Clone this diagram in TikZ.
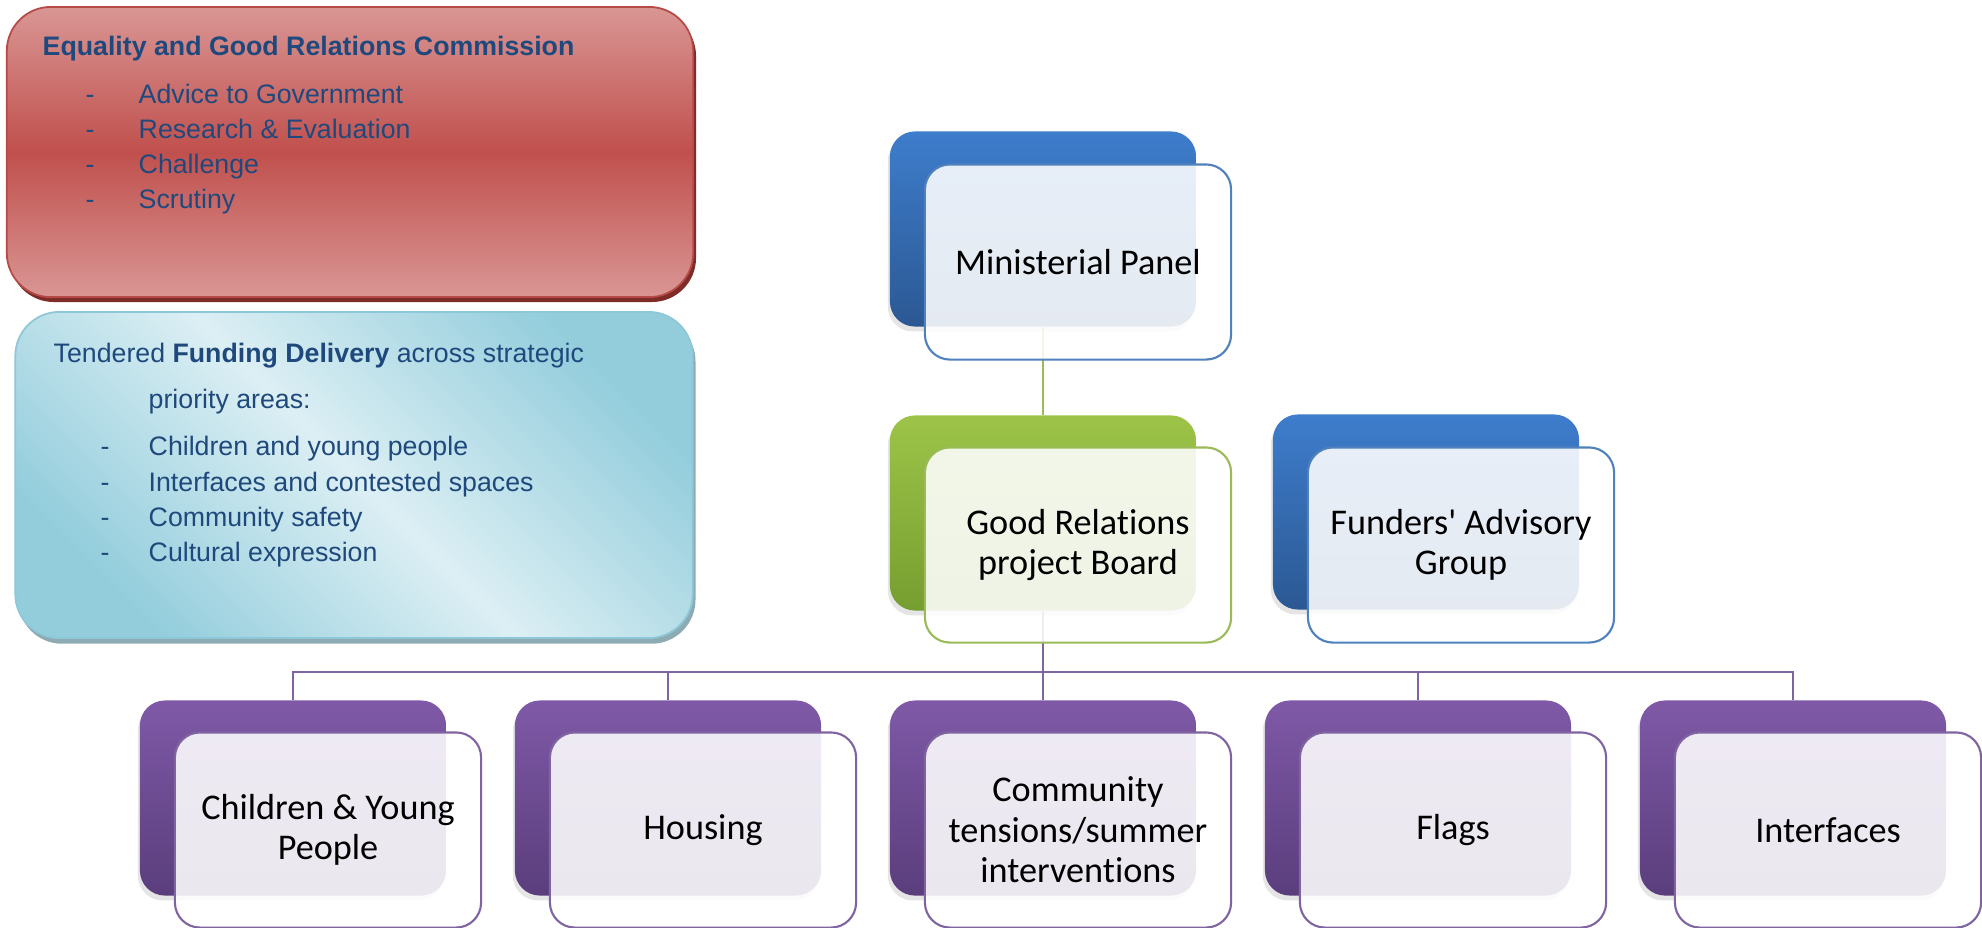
\documentclass[tikz,border=0pt]{standalone}
\usepackage{fontspec}
\setmainfont{Carlito}[Ligatures=NoCommon]
\newfontfamily\arialfont{Liberation Sans}
\usetikzlibrary{shadows}
\usetikzlibrary{backgrounds}

\definecolor{egrcLight}{HTML}{D99694}
\definecolor{egrcDark}{HTML}{C0504D}
\definecolor{egrcEdge}{HTML}{B64A47}
\definecolor{egrcShade}{HTML}{7F2B28}
\definecolor{tenderLight}{HTML}{DCEFF4}
\definecolor{tenderDark}{HTML}{93CDDC}
\definecolor{tenderEdge}{HTML}{8DC8D8}
\definecolor{tenderShade}{HTML}{8EABB3}
\definecolor{listBlue}{HTML}{1F497D}
\definecolor{panelTop}{HTML}{3E7DCC}
\definecolor{panelBot}{HTML}{2B5893}
\definecolor{panelEdge}{HTML}{4F81BD}
\definecolor{boardTop}{HTML}{9DC448}
\definecolor{boardBot}{HTML}{759E30}
\definecolor{boardEdge}{HTML}{9BBB59}
\definecolor{themeTop}{HTML}{7F59A7}
\definecolor{themeBot}{HTML}{5A3E7C}
\definecolor{themeEdge}{HTML}{8064A2}

\begin{document}
\begin{tikzpicture}[x=0.01cm, y=-0.01cm,
  back/.style={rectangle, rounded corners=0.25cm, minimum width=3.06cm, minimum height=1.95cm, inner sep=0pt,
    drop shadow={opacity=0.2, shadow xshift=-0.6pt, shadow yshift=-1.4pt}},
  front/.style={rectangle, rounded corners=0.25cm, minimum width=3.06cm, minimum height=1.95cm, inner sep=0pt,
    fill=white, fill opacity=0.88, text opacity=1, line width=0.6pt, align=center,
    font=\fontsize{10.3}{11.5}\selectfont},
  panelback/.style={back, top color=panelTop, bottom color=panelBot},
  panelfront/.style={front, draw=panelEdge},
  boardback/.style={back, top color=boardTop, bottom color=boardBot},
  boardfront/.style={front, draw=boardEdge},
  themeback/.style={back, top color=themeTop, bottom color=themeBot},
  themefront/.style={front, draw=themeEdge},
  list/.style={anchor=base west, inner sep=0pt, text=listBlue, font=\arialfont\fontsize{7.6}{9}\selectfont}]

\useasboundingbox (0,0) rectangle (1982,927);

% commission box
\node (egrc) at (350,152) [rectangle, rounded corners=0.44cm, minimum width=6.86cm, minimum height=2.9cm,
  top color=egrcLight, bottom color=egrcLight, middle color=egrcDark, draw=egrcEdge, line width=0.5pt,
  drop shadow={fill=egrcShade, opacity=1, shadow xshift=0.8pt, shadow yshift=-1.4pt}] {};
\node (egrcTitle) at (42,55) [list] {\bfseries Equality and Good Relations Commission};
\node (egrcAdvice) at (85,103) [list] {\makebox[0.53cm][l]{-}Advice to Government};
\node (egrcResearch) at (85,138) [list] {\makebox[0.53cm][l]{-}Research \& Evaluation};
\node (egrcChallenge) at (85,173) [list] {\makebox[0.53cm][l]{-}Challenge};
\node (egrcScrutiny) at (85,208) [list] {\makebox[0.53cm][l]{-}Scrutiny};

% tendered funding box
\node (tender) at (354,475) [rectangle, rounded corners=0.44cm, minimum width=6.77cm, minimum height=3.26cm,
  left color=tenderDark, right color=tenderDark, middle color=tenderLight, shading angle=135,
  draw=tenderEdge, line width=0.5pt,
  drop shadow={fill=tenderShade, opacity=1, shadow xshift=0.8pt, shadow yshift=-1.6pt}] {};
\node (tenderTitle) at (53,362) [list] {Tendered \textbf{Funding Delivery} across strategic};
\node (tenderAreas) at (148,408) [list] {priority areas:};
\node (tenderChildren) at (100,455) [list] {\makebox[0.48cm][l]{-}Children and young people};
\node (tenderInterfaces) at (100,491) [list] {\makebox[0.48cm][l]{-}Interfaces and contested spaces};
\node (tenderSafety) at (100,526) [list] {\makebox[0.48cm][l]{-}Community safety};
\node (tenderCulture) at (100,561) [list] {\makebox[0.48cm][l]{-}Cultural expression};

% top of the chart
\node (panelBack) at (1043,229) [panelback] {};
\node (panel) at (1078,262) [panelfront] {Ministerial Panel};
\node (boardBack) at (1043,513) [boardback] {};
\node (board) at (1078,545) [boardfront] {Good Relations\\project Board};
\node (fundersBack) at (1426,512) [panelback] {};
\node (funders) at (1461,545) [panelfront] {Funders\textquotesingle{} Advisory\\Group};

% priority themes
\node (childBack) at (293,798) [themeback] {};
\node (child) at (328,830) [themefront] {Children \& Young\\People};
\node (housingBack) at (668,798) [themeback] {};
\node (housing) at (703,830) [themefront] {Housing};
\node (tensionsBack) at (1043,798) [themeback] {};
\node (tensions) at (1078,830) [themefront] {Community\\tensions/summer\\interventions};
\node (flagsBack) at (1418,798) [themeback] {};
\node (flags) at (1453,830) [themefront] {Flags};
\node (interfacesBack) at (1793,798) [themeback] {};
\node (interfaces) at (1828,830) [themefront] {Interfaces};

% connectors behind the boxes
\begin{scope}[on background layer]
\fill[white] (0,0) rectangle (1982,927);
\coordinate (bus) at (1043,672);
\draw[boardEdge, line width=0.6pt] (panelBack.south) -- (boardBack.north);
\draw[themeEdge, line width=0.6pt] (boardBack.south) -- (bus) -| (childBack.north);
\draw[themeEdge, line width=0.6pt] (bus) -| (housingBack.north);
\draw[themeEdge, line width=0.6pt] (bus) -- (tensionsBack.north);
\draw[themeEdge, line width=0.6pt] (bus) -| (flagsBack.north);
\draw[themeEdge, line width=0.6pt] (bus) -| (interfacesBack.north);
\end{scope}

\end{tikzpicture}
\end{document}
